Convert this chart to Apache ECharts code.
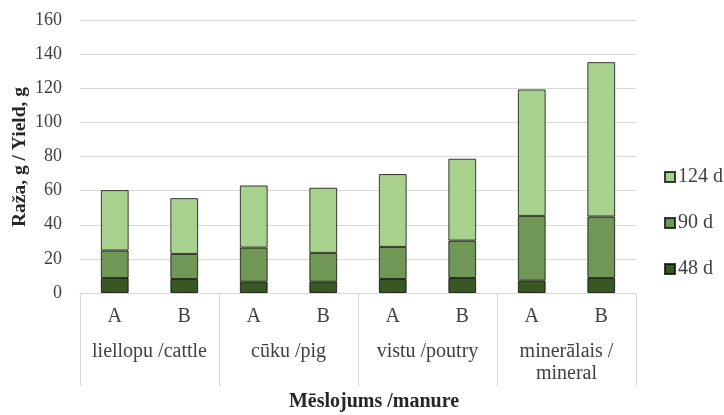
<!DOCTYPE html>
<html>
<head>
<meta charset="utf-8">
<script src="https://cdn.jsdelivr.net/npm/echarts@6/dist/echarts.min.js"></script>
<style>html,body{margin:0;padding:0;background:#fff}#c{width:724px;height:415px}</style>
</head>
<body>
<div id="c"></div>
<script>
const subCategories = ['A','B','A','B','A','B','A','B'];
const groupCategories = ['liellopu /cattle','cūku /pig','vistu /poutry','minerālais /\nmineral'];
const seriesNames = ['48 d','90 d','124 d'];
const d48 = [8.8, 8.2, 6.6, 6.6, 8.2, 8.8, 7.2, 8.8];
const d90 = [16.1, 14.7, 20.0, 16.9, 18.8, 21.9, 38.0, 36.0];
const d124 = [35.4, 32.7, 36.4, 38.2, 42.7, 48.0, 74.1, 90.5];
const yTicks = {min: 0, max: 160, interval: 20};
const yTitle = 'Raža, g / Yield, g';
const xTitle = 'Mēslojums /manure';

const FONT = '"Liberation Serif","Times New Roman",serif';
const colors = ['#385723', '#709755', '#A9D18E'];
const chart = echarts.init(document.getElementById('c'));
const mk = (name, data, i) => ({
  name, type: 'bar', stack: 's', data, barWidth: '40%',
  itemStyle: {color: colors[i], borderColor: 'rgba(0,0,0,0.75)', borderWidth: 1},
  emphasis: {disabled: true}
});
chart.setOption({
  animation: false,
  textStyle: {fontFamily: FONT},
  grid: {left: 80, right: 88, top: 20, bottom: 122},
  legend: {
    orient: 'vertical', left: 659, top: 162, itemGap: 26,
    itemWidth: 10, itemHeight: 10, icon: 'rect',
    data: ['124 d', '90 d', '48 d'],
    textStyle: {fontFamily: FONT, fontSize: 20, color: '#404040', padding: [0,0,0,-2]}
  },
  xAxis: [
    {type: 'category', data: subCategories, position: 'bottom',
     axisLine: {show: true, lineStyle: {color: '#d9d9d9', width: 1}},
     axisTick: {show: false},
     axisLabel: {fontFamily: FONT, fontSize: 20, color: '#404040', margin: 14, interval: 0}},
    {type: 'category', data: groupCategories, position: 'bottom',
     axisLine: {show: false},
     axisTick: {show: true, length: 93, lineStyle: {color: '#d9d9d9'}},
     axisLabel: {fontFamily: FONT, fontSize: 20, color: '#404040', margin: 48, lineHeight: 22, interval: 0}}
  ],
  yAxis: {type: 'value', min: yTicks.min, max: yTicks.max, interval: yTicks.interval,
    axisLine: {show: false}, axisTick: {show: false},
    splitLine: {lineStyle: {color: '#d9d9d9', width: 1}},
    axisLabel: {fontFamily: FONT, fontSize: 18, color: '#404040', margin: 18}},
  graphic: [
    {type: 'text', x: 20, y: 157, rotation: Math.PI / 2,
     style: {text: yTitle, font: 'bold 19.5px ' + FONT, fill: '#262626', align: 'center', verticalAlign: 'middle'}},
    {type: 'text', x: 374, y: 402,
     style: {text: xTitle, font: 'bold 20px ' + FONT, fill: '#262626', align: 'center', verticalAlign: 'middle'}}
  ],
  series: [mk(seriesNames[0], d48, 0), mk(seriesNames[1], d90, 1), mk(seriesNames[2], d124, 2)]
});
</script>
</body>
</html>
